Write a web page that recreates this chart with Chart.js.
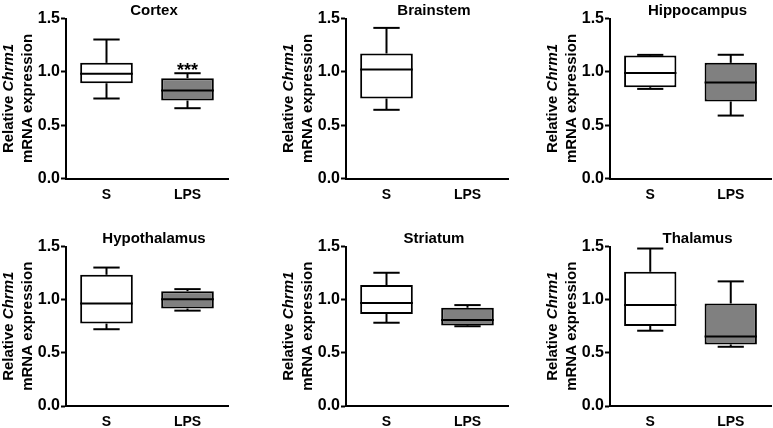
<!DOCTYPE html>
<html>
<head>
<meta charset="utf-8">
<script src="https://cdn.jsdelivr.net/npm/chart.js@4.4.1/dist/chart.umd.min.js"></script>
<style>
  html, body { margin: 0; padding: 0; background: #fff; }
  #wrap { position: relative; width: 773px; height: 428px; overflow: hidden; }
  #wrap canvas { position: absolute; }
</style>
</head>
<body>
<div id="wrap"></div>
<script>
// Box plots of relative Chrm1 mRNA expression, saline (S) vs LPS, per brain region.

const categories = ["S", "LPS"];
const regionNames = ["Cortex", "Brainstem", "Hippocampus", "Hypothalamus", "Striatum", "Thalamus"];
const yTicks = [0, 0.5, 1.0, 1.5];

// five-number summaries [min, q1, median, q3, max] for S and LPS
const cortex = [[0.75, 0.893, 0.981, 1.084, 1.303], [0.659, 0.731, 0.825, 0.94, 0.987]];
const brainstem = [[0.644, 0.75, 1.022, 1.172, 1.412], null];
const hippocampus = [[0.84, 0.856, 0.99, 1.153, 1.159], [0.59, 0.722, 0.9, 1.084, 1.16]];
const hypothalamus = [[0.722, 0.775, 0.963, 1.234, 1.302], [0.897, 0.916, 1.005, 1.08, 1.099]];
const striatum = [[0.783, 0.865, 0.968, 1.137, 1.253], [0.75, 0.758, 0.808, 0.924, 0.949]];
const thalamus = [[0.708, 0.752, 0.949, 1.262, 1.481], [0.557, 0.579, 0.654, 0.964, 1.172]];

// significance marks shown above the LPS box
const significance = ["***", "", "", "", "", ""];

const regionStats = [cortex, brainstem, hippocampus, hypothalamus, striatum, thalamus];

const FONT = "Arial, 'Liberation Sans', Helvetica, sans-serif";
const boxColors = ["#ffffff", "#808080"];

// canvas placement for each panel, and where its y axis sits
const panels = [
  { left: 0, top: 0, width: 257, height: 210, axisX: 66, axisEnd: 228, bottom: 178.5 },
  { left: 280, top: 0, width: 257, height: 210, axisX: 66, axisEnd: 228, bottom: 178.5 },
  { left: 544, top: 0, width: 229, height: 210, axisX: 66, axisEnd: 227, bottom: 178.5 },
  { left: 0, top: 228, width: 257, height: 200, axisX: 66, axisEnd: 228, bottom: 178 },
  { left: 280, top: 228, width: 257, height: 200, axisX: 66, axisEnd: 228, bottom: 178 },
  { left: 544, top: 228, width: 229, height: 200, axisX: 66, axisEnd: 227, bottom: 178 },
];

const boxPlotPlugin = {
  id: "boxPlot",
  afterDatasetsDraw(chart, args, opts) {
    const { ctx } = chart;
    const y = chart.scales.y;
    const meta = chart.getDatasetMeta(0);
    ctx.save();
    ctx.strokeStyle = "#000";
    ctx.lineWidth = 2;
    opts.stats.forEach((s, i) => {
      if (!s) return;
      const el = meta.data[i];
      const half = el.width / 2;
      const cap = half / 2;
      const x = el.x;
      const line = (x1, y1, x2, y2) => {
        ctx.beginPath();
        ctx.moveTo(x1, y1);
        ctx.lineTo(x2, y2);
        ctx.stroke();
      };
      const yMin = y.getPixelForValue(s[0]);
      const yQ1 = y.getPixelForValue(s[1]);
      const yMed = y.getPixelForValue(s[2]);
      const yQ3 = y.getPixelForValue(s[3]);
      const yMax = y.getPixelForValue(s[4]);
      line(x - half, yMed, x + half, yMed);
      line(x, yQ3, x, yMax);
      line(x - cap, yMax, x + cap, yMax);
      line(x, yQ1, x, yMin);
      line(x - cap, yMin, x + cap, yMin);
      if (i === 1 && opts.mark) {
        ctx.fillStyle = "#000";
        ctx.font = "bold 18px " + FONT;
        ctx.textAlign = "center";
        ctx.textBaseline = "alphabetic";
        ctx.fillText(opts.mark, x, yMax + 3);
      }
    });
    ctx.restore();
  },
  afterDraw(chart, args, opts) {
    const { ctx, chartArea } = chart;
    ctx.save();
    ctx.fillStyle = "#000";
    // panel title
    ctx.font = "bold 15px " + FONT;
    ctx.textAlign = "center";
    ctx.textBaseline = "middle";
    ctx.fillText(opts.title, (chartArea.left + chartArea.right) / 2 + 7, chartArea.top - 8);
    // two-line y axis title with italic gene name
    const cy = (chartArea.top + chartArea.bottom) / 2;
    ctx.translate(chartArea.left - 57, cy);
    ctx.rotate(-Math.PI / 2);
    ctx.textAlign = "left";
    const plain = "bold 15px " + FONT;
    const italic = "italic bold 15px " + FONT;
    ctx.font = plain;
    const w1 = ctx.measureText("Relative ").width;
    ctx.font = italic;
    const w2 = ctx.measureText("Chrm1").width;
    const x0 = -(w1 + w2) / 2;
    ctx.font = plain;
    ctx.fillText("Relative ", x0, 0);
    ctx.font = italic;
    ctx.fillText("Chrm1", x0 + w1, 0);
    ctx.font = plain;
    ctx.textAlign = "center";
    ctx.fillText("mRNA expression", 0, 18.5);
    ctx.restore();
  },
};

function renderPanel(idx) {
  const p = panels[idx];
  const stats = regionStats[idx];
  const canvas = document.createElement("canvas");
  canvas.width = p.width;
  canvas.height = p.height;
  canvas.style.left = p.left + "px";
  canvas.style.top = p.top + "px";
  document.getElementById("wrap").appendChild(canvas);

  new Chart(canvas, {
    type: "bar",
    data: {
      labels: categories,
      datasets: [
        {
          data: stats.map((s) => (s ? [s[1], s[3]] : null)),
          backgroundColor: boxColors,
          borderColor: "#000",
          borderWidth: 2,
          borderSkipped: false,
          barPercentage: 0.65,
          categoryPercentage: 1,
        },
      ],
    },
    options: {
      responsive: false,
      animation: false,
      layout: { padding: { top: 18.5, right: p.width - p.axisEnd, left: 0, bottom: 0 } },
      plugins: {
        legend: { display: false },
        tooltip: { enabled: false },
        title: { display: false },
        boxPlot: { stats, mark: significance[idx], title: regionNames[idx] },
      },
      scales: {
        x: {
          offset: true,
          grid: { display: false },
          border: { display: true, color: "#000", width: 2 },
          ticks: { color: "#000", padding: 0, font: { family: FONT, size: 14, weight: "bold" } },
          afterFit: (scale) => { scale.height = p.height - p.bottom; },
        },
        y: {
          min: 0,
          max: 1.5,
          afterBuildTicks: (scale) => { scale.ticks = yTicks.map((v) => ({ value: v })); },
          grid: { drawOnChartArea: false, drawTicks: true, tickLength: 5, tickColor: "#000", tickWidth: 2 },
          border: { display: true, color: "#000", width: 2 },
          ticks: {
            color: "#000",
            padding: 1,
            font: { family: FONT, size: 16, weight: "bold" },
            callback: (v) => Number(v).toFixed(1),
          },
          afterFit: (scale) => { scale.width = p.axisX; },
        },
      },
    },
    plugins: [boxPlotPlugin],
  });
}

regionNames.forEach((_, i) => renderPanel(i));
</script>
</body>
</html>
